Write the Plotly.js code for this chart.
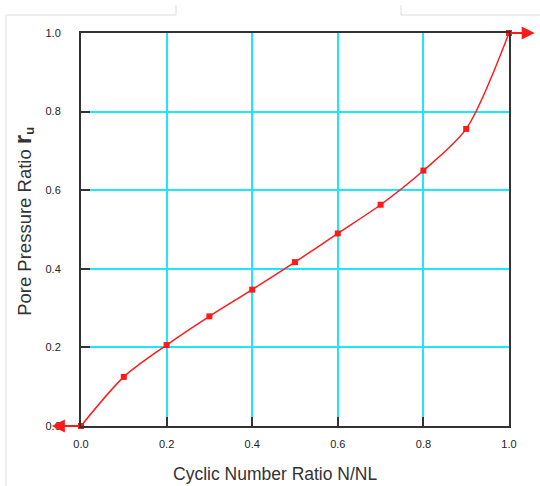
<!DOCTYPE html>
<html>
<head>
<meta charset="utf-8">
<script src="https://cdn.plot.ly/plotly-3.0.1.min.js"></script>
<style>html,body{margin:0;padding:0;background:#fff;}#chart{width:540px;height:486px;}</style>
</head>
<body>
<div id="chart"></div>
<script>
// Data
const cycleRatio = [0.0, 0.1, 0.2, 0.3, 0.4, 0.5, 0.6, 0.7, 0.8, 0.9, 1.0];
const poreRatio  = [0.0, 0.125, 0.206, 0.279, 0.347, 0.417, 0.49, 0.563, 0.65, 0.756, 1.0];
const tickVals   = [0.0, 0.2, 0.4, 0.6, 0.8, 1.0];
const tickText   = ["0.0", "0.2", "0.4", "0.6", "0.8", "1.0"];
const arrowStart = {x: [0.0, 1.0], y: [0.0, 1.0]};
const arrowTip   = {x: [-0.068, 1.06], y: [0.0, 1.0]};

const red = "#ff1a1a";
const trace = {
  x: cycleRatio, y: poreRatio,
  type: "scatter", mode: "lines+markers",
  line: {color: red, width: 1.5, shape: "spline", smoothing: 0.8},
  marker: {color: red, symbol: "square", size: 6},
  cliponaxis: false, hoverinfo: "skip"
};

const axisCommon = {
  range: [0, 1], tickvals: tickVals, ticktext: tickText,
  ticks: "inside", ticklen: 9, tickwidth: 2, tickcolor: "#333",
  showgrid: true, gridcolor: "#1ee8f5", gridwidth: 2,
  showline: true, linecolor: "#333", linewidth: 2, mirror: true,
  zeroline: false, fixedrange: true,
  tickfont: {family: "Liberation Sans, Arial, sans-serif", size: 11, color: "#222"}
};

const gray = {color: "#dedede", width: 1};
const layout = {
  width: 540, height: 486,
  margin: {l: 81, r: 31, t: 33, b: 60},
  paper_bgcolor: "#fff", plot_bgcolor: "#fff",
  showlegend: false,
  xaxis: Object.assign({}, axisCommon, {ticklabelstandoff: 7}),
  yaxis: Object.assign({}, axisCommon, {ticklabelstandoff: 16}),
  annotations: [
    {xref: "paper", yref: "paper", x: 0.453, y: -0.122, yanchor: "middle", xanchor: "center",
     text: "Cyclic Number Ratio N/NL", showarrow: false,
     font: {family: "Liberation Sans, Arial, sans-serif", size: 17.5, color: "#333"}},
    {xref: "paper", yref: "paper", x: -0.135, y: 0.52, xanchor: "center", yanchor: "middle",
     textangle: -90, showarrow: false,
     text: 'Pore Pressure Ratio <b><span style="font-size:24px">r</span><sub>u</sub></b>',
     font: {family: "Liberation Sans, Arial, sans-serif", size: 18.5, color: "#333"}}
  ].concat(arrowTip.x.map((tx, i) => ({
    x: tx, y: arrowTip.y[i], ax: arrowStart.x[i], ay: arrowStart.y[i],
    xref: "x", yref: "y", axref: "x", ayref: "y",
    text: "", showarrow: true, arrowhead: 2, arrowsize: 1.3, arrowwidth: 2, arrowcolor: red
  }))),
  shapes: [
    {type: "line", xref: "paper", yref: "paper", x0: -0.1752, x1: 0.222, y0: 1.0458, y1: 1.0458, line: gray},
    {type: "line", xref: "paper", yref: "paper", x0: 0.222, x1: 0.222, y0: 1.0458, y1: 1.0712, line: gray},
    {type: "line", xref: "paper", yref: "paper", x0: 0.7477, x1: 1.08, y0: 1.0458, y1: 1.0458, line: gray},
    {type: "line", xref: "paper", yref: "paper", x0: 0.7477, x1: 0.7477, y0: 1.0458, y1: 1.0712, line: gray},
    {type: "line", xref: "paper", yref: "paper", x0: -0.1752, x1: -0.1752, y0: 1.0458, y1: -0.16, line: gray}
  ]
};

Plotly.newPlot("chart", [trace], layout, {displayModeBar: false, staticPlot: true});
</script>
</body>
</html>
